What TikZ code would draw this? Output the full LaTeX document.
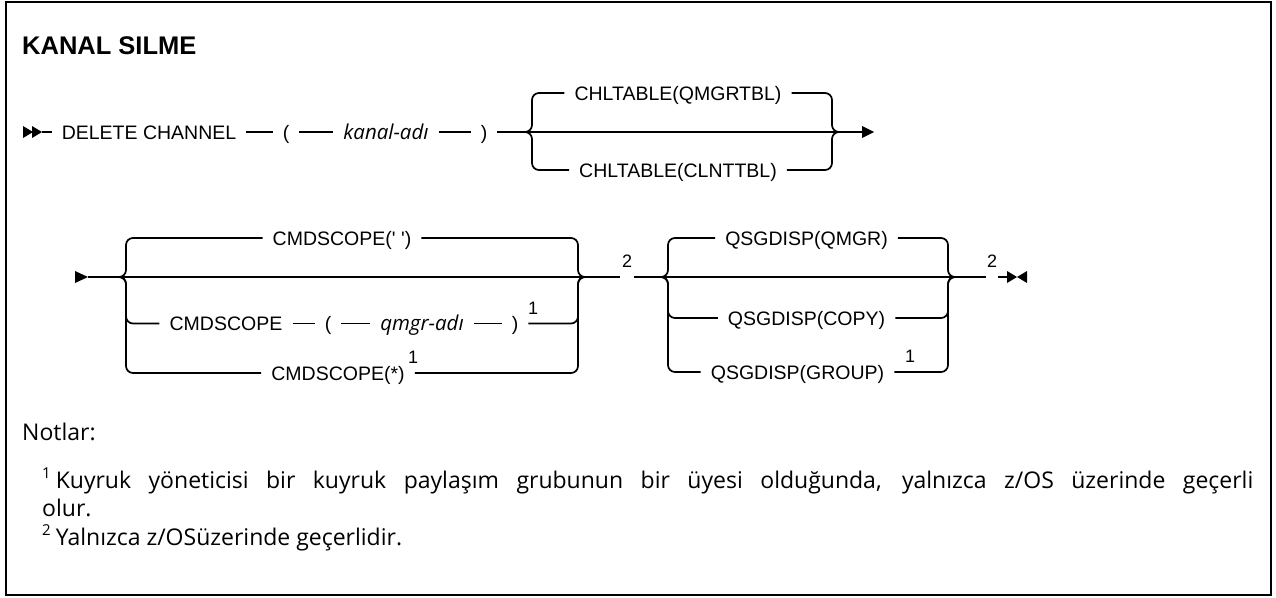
\documentclass[tikz,border=0pt]{standalone}
\usepackage{fontspec}
\setmainfont{Liberation Sans}[Ligatures=TeXOff]
\newfontfamily\varfont{Open Sans}[Ligatures=TeXOff]
\newcommand\fnmark[1]{\raisebox{0.42em}{\fontsize{15}{17}\selectfont #1}}
\begin{document}
\begin{tikzpicture}[x=1pt,y=-1pt,
  rail/.style={line width=1.7pt, line cap=butt},
  brk/.style={rail, rounded corners=7pt},
  kw/.style={font=\fontsize{19.5}{23}\selectfont, inner xsep=10pt, inner ysep=0pt, text height=14pt, text depth=0pt},
  var/.style={kw, font=\fontsize{20.5}{23}\selectfont\varfont\itshape},
  fnum/.style={font=\fontsize{18}{20}\selectfont, inner sep=0pt},
  note/.style={font=\fontsize{23}{27}\selectfont\varfont, inner sep=0pt, anchor=base west},
  tip/.style={fill=black, draw=none}
]
\useasboundingbox (0,0) rectangle (1276,597);
\draw[line width=2pt] (6,1.5) rectangle (1270.5,594.5);

\node[font=\bfseries\fontsize{25.5}{28}\selectfont, anchor=west, inner sep=0pt, text height=18pt, text depth=0pt] (title) at (22,45) {KANAL SILME};

% ---------- line 1 ----------
\coordinate (a1) at (42,132);
\coordinate (e1) at (874,132);
\coordinate (L1) at (532,132);
\coordinate (L1in) at (523,132);
\coordinate (R1) at (832,132);
\coordinate (R1out) at (841,132);
\fill[tip] (23,126) -- (33,132) -- (23,138) -- cycle;
\fill[tip] (32,126) -- (42,132) -- (32,138) -- cycle;
\node[kw] (dc) at (149,132) {DELETE CHANNEL};
\node[kw] (lp1) at (286,132) {(};
\node[var] (kan) at (386,132) {kanal-adı};
\node[kw] (rp1) at (484,132) {)};
\draw[rail] (a1) -- (dc.west);
\draw[rail] (dc.east) -- (lp1.west);
\draw[rail] (lp1.east) -- (kan.west);
\draw[rail] (kan.east) -- (rp1.west);
\draw[rail] (rp1.east) -- ([xshift=-12pt]e1);
\fill[tip] ([xshift=-12pt,yshift=-6pt]e1) -- (e1) -- ([xshift=-12pt,yshift=6pt]e1) -- cycle;
\node[kw] (c1) at (678,93) {CHLTABLE(QMGRTBL)};
\node[kw] (c2) at (678,170) {CHLTABLE(CLNTTBL)};
\draw[brk] (L1in) -| (c1.west -| L1) -- (c1.west);
\draw[brk] (L1in) -| (c2.west -| L1) -- (c2.west);
\draw[brk] (c1.east) -| (R1) -- (R1out);
\draw[brk] (c2.east) -| (R1) -- (R1out);

% ---------- line 2 ----------
\coordinate (s2) at (88,277);
\coordinate (L2) at (126,277);
\coordinate (L2in) at (117,277);
\coordinate (R2) at (578,277);
\coordinate (R2out) at (587,277);
\coordinate (g2a) at (620,277);
\coordinate (g2b) at (634,277);
\coordinate (L3) at (668,277);
\coordinate (L3in) at (659,277);
\coordinate (R3) at (948,277);
\coordinate (R3out) at (957,277);
\coordinate (g3a) at (986,277);
\coordinate (g3b) at (998,277);
\coordinate (e2) at (1007,277);
\fill[tip] (75,271) -- (s2) -- (75,283) -- cycle;
\node[kw] (d1) at (342,238) {CMDSCOPE(' ')};
\node[kw] (d2) at (226,323.5) {CMDSCOPE};
\node[kw] (lp2) at (328,323.5) {(};
\node[var] (qm) at (422,323.5) {qmgr-adı};
\node[kw] (rp2) at (515,323.5) {)};
\node[fnum] (n1a) at (533,308) {1};
\node[kw] (d3) at (338,373) {CMDSCOPE(*)};
\node[fnum] (n1b) at (413,357) {1};
\draw[rail] (s2) -- (g2a);
\node[fnum] (n2a) at (627,261) {2};
\draw[brk] (L2in) -| (d1.west -| L2) -- (d1.west);
\draw[brk] (L2in) -| (d2.west -| L2) -- (d2.west);
\draw[brk] (L2in) -| (d3.west -| L2) -- (d3.west);
\draw[rail] (d2.east) -- (lp2.west);
\draw[rail] (lp2.east) -- (qm.west);
\draw[rail] (qm.east) -- (rp2.west);
\draw[brk] (d1.east) -| (R2) -- (R2out);
\draw[brk] (rp2.east) -| (R2) -- (R2out);
\draw[brk] (d3.east) -| (R2) -- (R2out);

\node[kw] (q1) at (806.5,238) {QSGDISP(QMGR)};
\node[kw] (q2) at (806.5,318) {QSGDISP(COPY)};
\node[kw] (q3) at (797.5,372) {QSGDISP(GROUP)};
\node[fnum] (n1c) at (910,356) {1};
\draw[rail] (g2b) -- (g3a);
\node[fnum] (n2b) at (992,261) {2};
\draw[rail] (g3b) -- (e2);
\draw[brk] (L3in) -| (q1.west -| L3) -- (q1.west);
\draw[brk] (L3in) -| (q2.west -| L3) -- (q2.west);
\draw[brk] (L3in) -| (q3.west -| L3) -- (q3.west);
\draw[brk] (q1.east) -| (R3) -- (R3out);
\draw[brk] (q2.east) -| (R3) -- (R3out);
\draw[brk] (q3.east) -| (R3) -- (R3out);
\fill[tip] (1007,271) -- (1017,277) -- (1007,283) -- cycle;
\fill[tip] (1027,271) -- (1017,277) -- (1027,283) -- cycle;

% ---------- notes ----------
\node[note] (nt) at (22,440) {Notlar:};
\node[note] (f1) at (42,488) {\hbox to 1211pt{\fnmark{1}\kern5pt Kuyruk yöneticisi bir kuyruk paylaşım grubunun bir üyesi olduğunda, yalnızca z/OS üzerinde geçerli}};
\node[note] (f1b) at (42,516) {olur.};
\node[note] (f2) at (42,545) {\fnmark{2}\kern5pt Yalnızca z/OSüzerinde geçerlidir.};
\end{tikzpicture}
\end{document}
